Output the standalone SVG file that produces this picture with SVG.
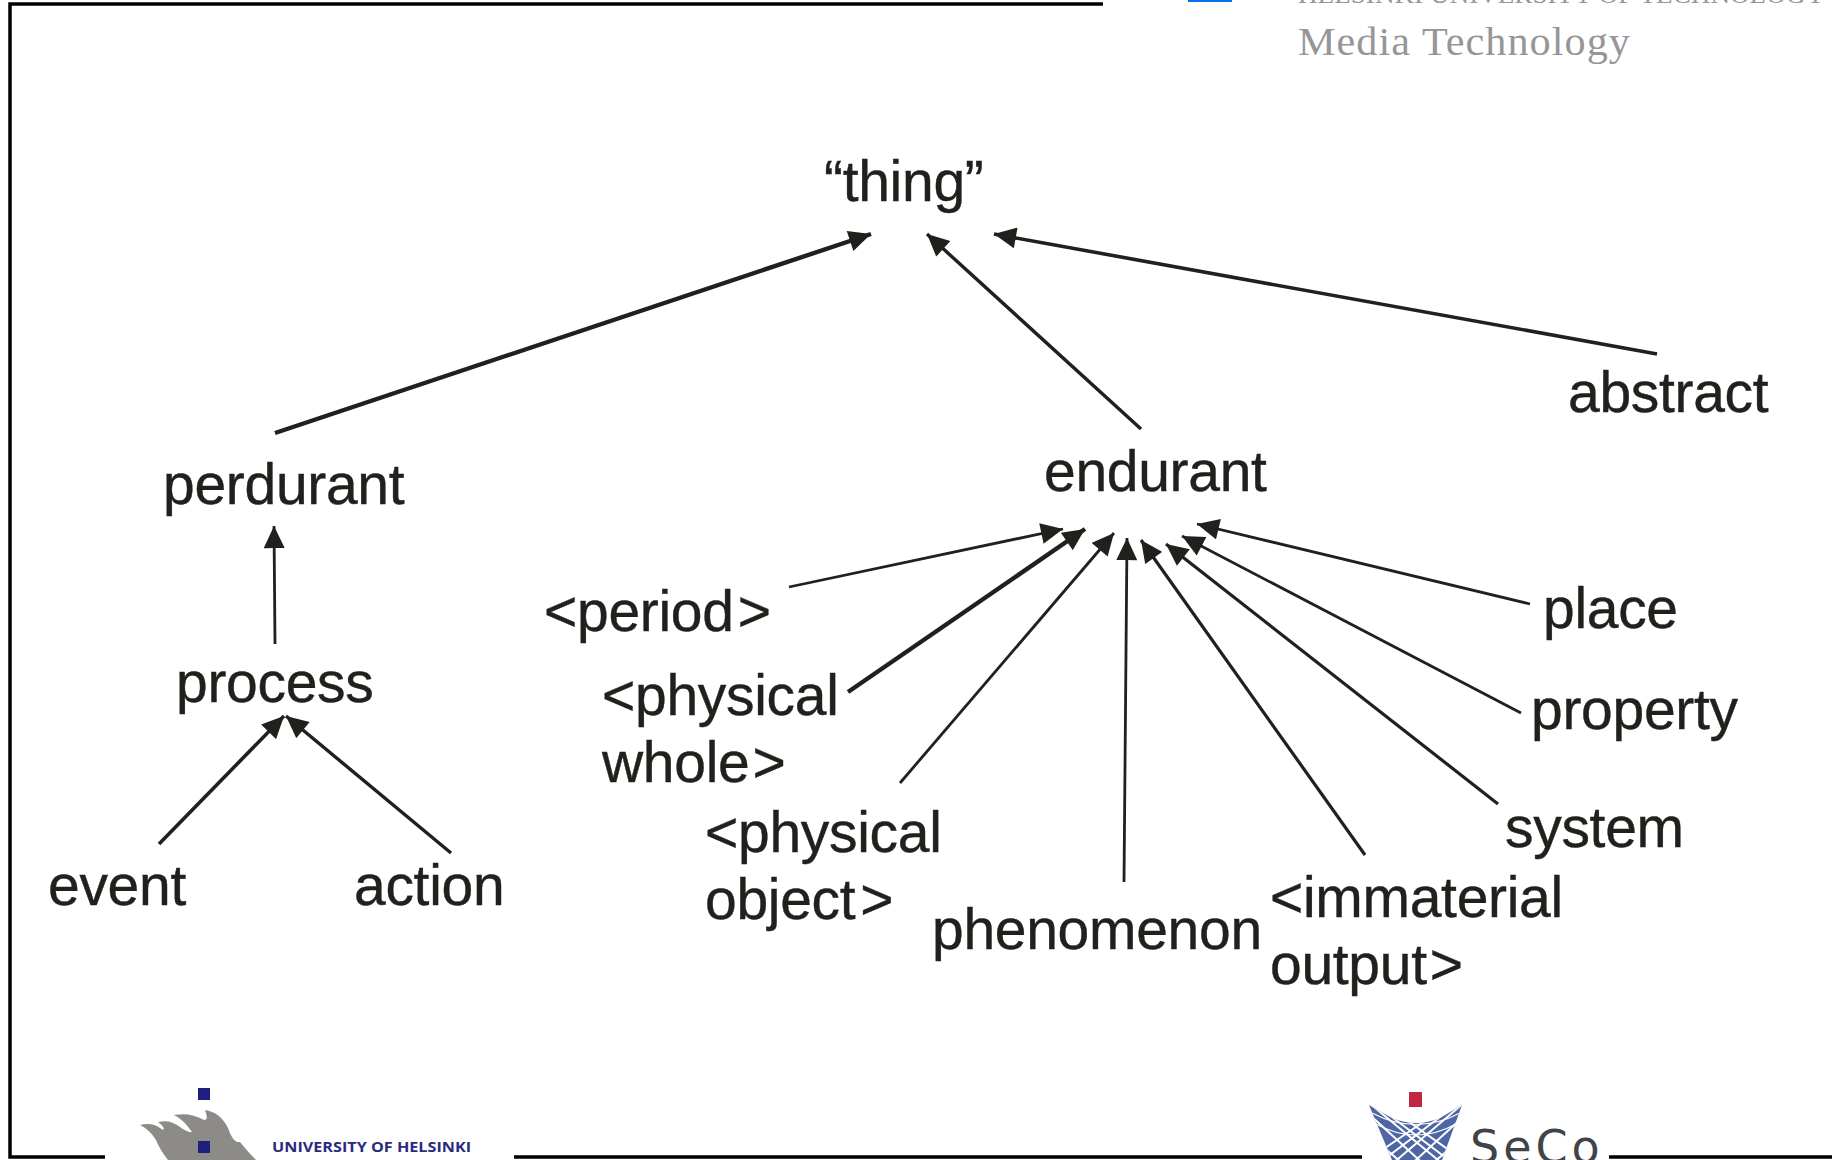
<svg xmlns="http://www.w3.org/2000/svg" width="1832" height="1160" viewBox="0 0 1832 1160">
<style>
.t{font-family:"Liberation Sans",Arial,sans-serif;font-size:57px;fill:#22201c;stroke:#22201c;stroke-width:.4;letter-spacing:-0.3px}
.c{fill:none;stroke:#22201c;stroke-width:2.8;marker-end:url(#a)}
.k{stroke-width:4.4}
.f{fill:none;stroke:#000;stroke-width:3.5}
.s{font-family:"Liberation Serif",serif;fill:#969696}
</style>
<defs>
<marker id="a" markerUnits="userSpaceOnUse" markerWidth="25" markerHeight="21" refX="21" refY="10" orient="auto" viewBox="0 0 23 20"><path d="M0 0L21 10L0 20Z" fill="#22201c"/></marker>
<clipPath id="n"><path d="M1369 1105L1392 1118Q1416 1128 1440 1118L1462 1105L1442 1160H1392Z"/></clipPath>
</defs>
<g id="frame">
<path class="f" d="M1103 4H10V1157H105M514 1157H1362M1609 1157H1832"/>
</g>
<g id="connectors">
<path class="c k" d="M275 433L871 234"/>
<path class="c" style="stroke-width:3.4" d="M1141 429L927 234"/>
<path class="c" style="stroke-width:3.6" d="M1657 354L994 234"/>
<path class="c" d="M275 644L274 526"/>
<path class="c" style="stroke-width:3.6" d="M159 844L284 716"/>
<path class="c" style="stroke-width:3.4" d="M451 853L286 716"/>
<path class="c" d="M789 587L1063 529"/>
<path class="c k" d="M848 692L1085 529"/>
<path class="c" d="M900 783L1114 533"/>
<path class="c" d="M1124 882L1127 538"/>
<path class="c" style="stroke-width:3.2" d="M1365 855L1141 540"/>
<path class="c" style="stroke-width:3.2" d="M1498 804L1166 544"/>
<path class="c" d="M1521 713L1182 536"/>
<path class="c" d="M1530 604L1197 524"/>
</g>
<g id="thing"><text class="t" x="824" y="201">“thing”</text></g>
<g id="perdurant"><text class="t" x="163" y="504">perdurant</text></g>
<g id="endurant"><text class="t" x="1044" y="491">endurant</text></g>
<g id="abstract"><text class="t" x="1568" y="412">abstract</text></g>
<g id="process"><text class="t" x="176" y="702">process</text></g>
<g id="event"><text class="t" x="48" y="905">event</text></g>
<g id="action"><text class="t" x="354" y="905">action</text></g>
<g id="period"><text class="t" x="544" y="631">&lt;period<tspan dx="4">&gt;</tspan></text></g>
<g id="physical-whole"><text class="t" x="602" y="715">&lt;physical</text><text class="t" x="602" y="782">whole<tspan dx="3">&gt;</tspan></text></g>
<g id="physical-object"><text class="t" x="705" y="852">&lt;physical</text><text class="t" x="705" y="919">object<tspan dx="5">&gt;</tspan></text></g>
<g id="phenomenon"><text class="t" x="932" y="949">phenomenon</text></g>
<g id="immaterial-output"><text class="t" x="1270" y="917">&lt;immaterial</text><text class="t" x="1270" y="984">output<tspan dx="3">&gt;</tspan></text></g>
<g id="system"><text class="t" x="1505" y="847">system</text></g>
<g id="property"><text class="t" x="1531" y="729">property</text></g>
<g id="place"><text class="t" x="1543" y="628">place</text></g>
<g id="tkk-logo">
<rect x="1188" y="0" width="44" height="2" fill="#0a6eef"/>
<text class="s" x="1298" y="3" font-size="25" textLength="527" lengthAdjust="spacingAndGlyphs">HELSINKI UNIVERSITY OF TECHNOLOGY</text>
<text class="s" x="1298" y="55" font-size="40" letter-spacing="1" textLength="333" lengthAdjust="spacingAndGlyphs">Media Technology</text>
</g>
<g id="helsinki-logo">
<rect x="198" y="1088" width="12" height="12" fill="#1f1f7f"/>
<path d="M140 1125Q152 1122 160 1128L163 1130Q166 1128 158 1122Q170 1119 180 1127Q188 1133 192 1132Q184 1120 174 1115Q190 1112 204 1120Q209 1120 205 1110Q220 1112 228 1128Q232 1140 237 1142L240 1142Q248 1152 256 1160H168Q160 1150 156 1140Q150 1130 140 1125Z" fill="#8c8b87"/>
<rect x="198" y="1141" width="12" height="12" fill="#1f1f7f"/>
<text x="272" y="1152" font-family="'Open Sans',sans-serif" font-weight="700" font-size="15" fill="#2a2a80" textLength="199" lengthAdjust="spacingAndGlyphs">UNIVERSITY OF HELSINKI</text>
</g>
<g id="seco-logo">
<rect x="1409" y="1092" width="13" height="15" fill="#c0263f"/>
<path d="M1369 1105L1392 1118Q1416 1128 1440 1118L1462 1105L1442 1160H1392Z" fill="#4f66a4"/>
<g clip-path="url(#n)" stroke="#fff" stroke-width="2" fill="none">
<path d="M1360 1106L1430 1170M1368 1102L1450 1170M1380 1108L1462 1170M1395 1112L1470 1165M1350 1118L1410 1170M1340 1128L1392 1170M1475 1106L1405 1170M1465 1102L1385 1170M1452 1108L1370 1170M1438 1112L1360 1165M1485 1118L1425 1170M1495 1128L1442 1170"/>
<path d="M1372 1113Q1416 1136 1460 1113M1376 1124Q1416 1146 1456 1124" stroke-width="1.2"/>
</g>
<text x="1470" y="1163" font-family="'DejaVu Sans',sans-serif" font-size="46" fill="#3f4448" letter-spacing="4">SeCo</text>
</g>
</svg>
